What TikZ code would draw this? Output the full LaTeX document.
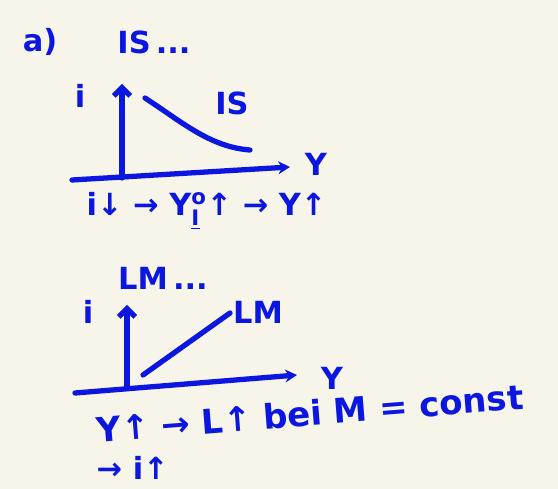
\documentclass[tikz,border=0pt]{standalone}
\usepackage{amsmath}
\usepackage{fontspec}
\setmainfont{DejaVu Sans}
\usetikzlibrary{arrows.meta, positioning}
\definecolor{ink}{RGB}{12,22,225}
\definecolor{paper}{RGB}{247,244,234}

\begin{document}
\begin{tikzpicture}[x=0.03cm, y=-0.03cm, color=ink, line width=4.5pt, line cap=round,
    yaxis/.style={-{Straight Barb[length=7pt,width=14pt]}},
    xaxis/.style={-{Stealth[length=10pt,width=11pt]}},
    hand/.style={font=\fontsize{26}{30}\selectfont\bfseries, inner sep=0pt, text=ink},
    bighand/.style={hand, font=\fontsize{29}{32}\selectfont\bfseries}]
    \fill[paper] (0,0) rectangle (558,489);

    % Teil a): IS-Kurve
    \node[hand] (parta) at (40,42) {a)};
    \node[hand] (ishead) at (154,42) {IS\,...};
    \coordinate (o1) at (122,178);
    \draw[yaxis] (o1) -- (122,84);
    \draw[xaxis] (72,180) -- (290,167);
    \draw (145,98) .. controls (182,122) and (210,147) .. (250,150);
    \node[hand] (i1) at (80,96) {i};
    \node[hand] (islab) at (232,103) {IS};
    \node[hand] (y1) at (316,164) {Y};
    \node[hand, anchor=west] (isline) at (84,211)
        {i↓ → Y$^{\text{o}}_{\underline{\text{I}}}$↑ → Y↑};

    % LM-Kurve
    \node[hand] (lmhead) at (163,278) {LM\,...};
    \coordinate (o2) at (127,387);
    \draw[yaxis] (o2) -- (127,305);
    \draw[xaxis] (75,393) -- (297,375);
    \draw (143,375) -- (230,313);
    \node[hand] (i2) at (88,312) {i};
    \node[hand] (lmlab) at (258,312) {LM};
    \node[hand] (y2) at (332,378) {Y};
    \node[bighand, anchor=west, rotate=4.5] (lmline) at (94,430)
        {Y↑ → L↑ bei M = const};
    \node[hand, anchor=west] (lmend) at (94,468) {→ i↑};
\end{tikzpicture}
\end{document}
